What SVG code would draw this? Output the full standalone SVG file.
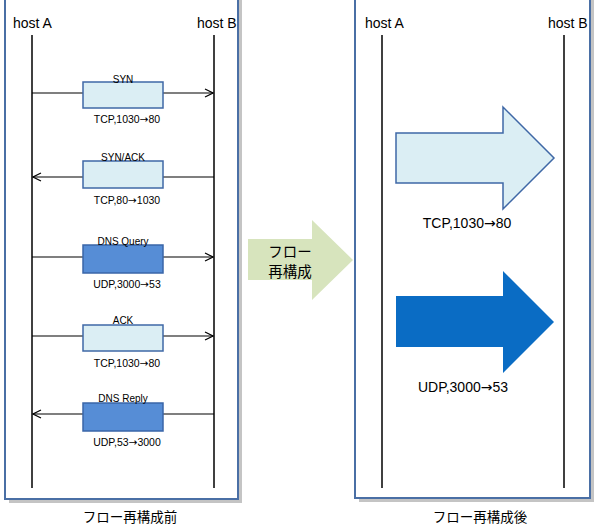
<svg xmlns="http://www.w3.org/2000/svg" width="600" height="532" viewBox="0 0 600 532">
<style>
.frame{fill:#ffffff;stroke:#4a6fa5;stroke-width:2}
.shadow{fill:#c4c4c4}
.life{stroke:#000;stroke-width:1.5}
.host{font-family:"Liberation Sans","Noto Sans",sans-serif;font-size:14px;fill:#000}
.lbl{font-family:"Liberation Sans","DejaVu Sans",sans-serif;font-size:10px;fill:#000;text-anchor:middle}
.sub{font-family:"Liberation Sans","DejaVu Sans",sans-serif;font-size:10.5px;fill:#000;text-anchor:middle}
.big{font-family:"Liberation Sans","DejaVu Sans",sans-serif;font-size:14px;fill:#000;text-anchor:middle}
.ar{font-family:"DejaVu Sans",sans-serif}
.cap{font-family:"Noto Sans CJK JP",sans-serif;font-size:13.5px;fill:#000;text-anchor:middle}
.mid{font-family:"Noto Sans CJK JP",sans-serif;font-size:14.5px;fill:#000;text-anchor:middle}
.light{fill:#dbeef4;stroke:#3f68a6;stroke-width:1.5}
.dark{fill:#568dd6;stroke:#3a66a8;stroke-width:1.5}
.msg{stroke:#000;stroke-width:1.2;fill:none}
</style>
<defs>
<marker id="ah" markerWidth="10" markerHeight="10" refX="9" refY="5" orient="auto" markerUnits="userSpaceOnUse">
<path d="M1,1 L9,5 L1,9" fill="none" stroke="#000" stroke-width="1.2"/>
</marker>
</defs>

<g id="panel-before">
<rect class="shadow" x="9" y="-1" width="233" height="504"/>
<rect class="frame" x="5" y="-5" width="233" height="504"/>
<text class="host" x="13" y="28">host A</text>
<text class="host" x="197" y="28">host B</text>
<line class="life" x1="32" y1="35" x2="32" y2="488"/>
<line class="life" x1="214" y1="35" x2="214" y2="488"/>
<text class="cap" x="130" y="522">フロー再構成前</text>
</g>

<g id="connectors">
<line class="msg" x1="32" y1="93" x2="213" y2="93" marker-end="url(#ah)"/>
<line class="msg" x1="214" y1="177" x2="33" y2="177" marker-end="url(#ah)"/>
<line class="msg" x1="32" y1="257" x2="213" y2="257" marker-end="url(#ah)"/>
<line class="msg" x1="32" y1="336" x2="213" y2="336" marker-end="url(#ah)"/>
<line class="msg" x1="214" y1="414" x2="33" y2="414" marker-end="url(#ah)"/>
</g>

<g id="msg-syn">
<rect class="light" x="83" y="82" width="80" height="26"/>
<text class="lbl" x="123" y="83">SYN</text>
<text class="sub" x="127" y="123">TCP,1030<tspan class="ar">→</tspan>80</text>
</g>
<g id="msg-synack">
<rect class="light" x="83" y="161" width="80" height="27"/>
<text class="lbl" x="123" y="161">SYN/ACK</text>
<text class="sub" x="127" y="204">TCP,80<tspan class="ar">→</tspan>1030</text>
</g>
<g id="msg-dnsquery">
<rect class="dark" x="83" y="245" width="80" height="28"/>
<text class="lbl" x="123" y="245">DNS Query</text>
<text class="sub" x="127" y="288">UDP,3000<tspan class="ar">→</tspan>53</text>
</g>
<g id="msg-ack">
<rect class="light" x="83" y="325" width="80" height="26"/>
<text class="lbl" x="123" y="324">ACK</text>
<text class="sub" x="127" y="367">TCP,1030<tspan class="ar">→</tspan>80</text>
</g>
<g id="msg-dnsreply">
<rect class="dark" x="83" y="403" width="80" height="28"/>
<text class="lbl" x="123" y="402">DNS Reply</text>
<text class="sub" x="127" y="446">UDP,53<tspan class="ar">→</tspan>3000</text>
</g>

<g id="reconstruct">
<polygon points="248,239 312,239 312,220 353,260 312,300 312,280 248,280" fill="#d7e4bd"/>
<text class="mid" x="290" y="257">フロー</text>
<text class="mid" x="290" y="277">再構成</text>
</g>

<g id="panel-after">
<rect class="shadow" x="359" y="-1" width="235" height="503"/>
<rect class="frame" x="355" y="-5" width="235" height="503"/>
<text class="host" x="365" y="28">host A</text>
<text class="host" x="548" y="28">host B</text>
<line class="life" x1="382" y1="35" x2="382" y2="488"/>
<line class="life" x1="564" y1="35" x2="564" y2="488"/>
<text class="cap" x="480" y="522">フロー再構成後</text>
</g>

<g id="flow-tcp">
<polygon points="396,133 503,133 503,107 554,158 503,209 503,183 396,183" fill="#dbeef4" stroke="#3f68a6" stroke-width="1.5"/>
<text class="big" x="467" y="228">TCP,1030<tspan class="ar">→</tspan>80</text>
</g>
<g id="flow-udp">
<polygon points="396,296 503,296 503,271 554,322 503,373 503,347 396,347" fill="#0a6cc4"/>
<text class="big" x="463" y="392">UDP,3000<tspan class="ar">→</tspan>53</text>
</g>
</svg>
